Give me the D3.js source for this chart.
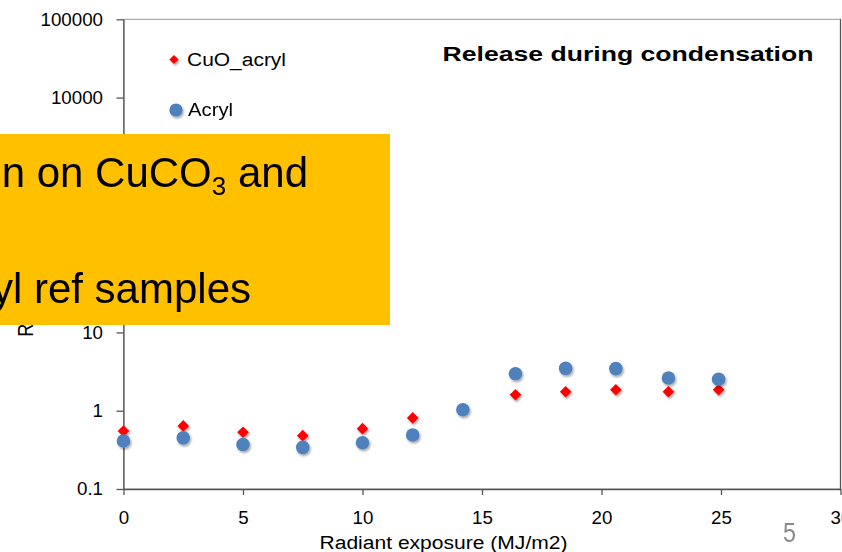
<!DOCTYPE html>
<html>
<head>
<meta charset="utf-8">
<script src="https://cdn.jsdelivr.net/npm/d3@7"></script>
<style>
  html, body { margin: 0; padding: 0; background: #ffffff; }
  svg { display: block; }
  text { font-family: "Liberation Sans", Arial, sans-serif; }
</style>
</head>
<body>
<svg id="chart" width="842" height="552"></svg>
<script>
// Radiant exposure (MJ/m2) at each sampling point
const exposure = [0, 2.5, 5, 7.5, 10, 12.1, 14.2, 16.4, 18.5, 20.6, 22.8, 24.9];
// Release per sample, log scale (null = no measurement)
const cuoAcryl = [0.55, 0.64, 0.53, 0.48, 0.59, 0.81, null, 1.60, 1.75, 1.85, 1.75, 1.85];
const acryl    = [0.41, 0.45, 0.37, 0.34, 0.39, 0.49, 1.03, 2.97, 3.48, 3.45, 2.62, 2.52];

const seriesNames = ["CuO_acryl", "Acryl"];
const yTicks = [0.1, 1, 10, 100, 1000, 10000, 100000];
const yTickLabels = ["0.1", "1", "10", "100", "1000", "10000", "100000"];
const xTicks = [0, 5, 10, 15, 20, 25, 30];

const chartTitle = "Release during condensation";
const xTitle = "Radiant exposure (MJ/m2)";
const yTitle = "Released Cu (µg/m2)";

const svg = d3.select("#chart");
const plot = { left: 123.5, right: 840.5, top: 19.3, bottom: 489 };

const x = d3.scaleLinear().domain([0, 30]).range([plot.left, plot.right]);
const y = d3.scaleLog().domain([0.1, 100000]).range([plot.bottom, plot.top]);

// widen glyphs horizontally by factor k (the chart text is drawn slightly wide)
function widen(sel, k) {
  sel.each(function () {
    const w = this.getComputedTextLength();
    d3.select(this).attr("textLength", w * k).attr("lengthAdjust", "spacingAndGlyphs");
  });
}

// soft drop shadow under markers
const defs = svg.append("defs");
const f = defs.append("filter").attr("id", "shadow")
  .attr("x", "-50%").attr("y", "-50%").attr("width", "200%").attr("height", "200%");
f.append("feDropShadow").attr("dx", 1.2).attr("dy", 1.8)
  .attr("stdDeviation", 1.1).attr("flood-color", "#000").attr("flood-opacity", 0.35);

// plot frame
svg.append("rect")
  .attr("x", plot.left).attr("y", plot.top)
  .attr("width", plot.right - plot.left).attr("height", plot.bottom - plot.top)
  .attr("fill", "none").attr("stroke", "#9a9a9a").attr("stroke-width", 1);
svg.append("line")
  .attr("x1", plot.right).attr("x2", plot.right)
  .attr("y1", plot.top).attr("y2", plot.bottom)
  .attr("stroke", "#555").attr("stroke-width", 1.3);

// y axis
const yAxis = svg.append("g")
  .attr("transform", `translate(${plot.left},0)`)
  .call(d3.axisLeft(y).tickValues(yTicks)
    .tickFormat((d, i) => yTickLabels[i]).tickSize(7).tickSizeOuter(0).tickPadding(13.5));
yAxis.select(".domain").attr("stroke", "#555").attr("stroke-width", 1.3);
yAxis.selectAll(".tick line").attr("stroke", "#555").attr("stroke-width", 1.3);
yAxis.selectAll(".tick text")
  .attr("font-size", 18).attr("fill", "#000").attr("font-family", "Liberation Sans, Arial, sans-serif")
  .call(widen, 1.04);

// x axis
const xAxis = svg.append("g")
  .attr("transform", `translate(0,${plot.bottom})`)
  .call(d3.axisBottom(x).tickValues(xTicks).tickFormat(d3.format("d"))
    .tickSize(6).tickSizeOuter(0).tickPadding(16.5));
xAxis.select(".domain").attr("stroke", "#555").attr("stroke-width", 1.3);
xAxis.selectAll(".tick line").attr("stroke", "#555").attr("stroke-width", 1.3);
xAxis.selectAll(".tick text")
  .attr("font-size", 18).attr("fill", "#000").attr("font-family", "Liberation Sans, Arial, sans-serif")
  .call(widen, 1.04);

// axis titles
svg.append("text")
  .attr("x", 443.5).attr("y", 548.5)
  .attr("text-anchor", "middle").attr("font-size", 18).attr("fill", "#000")
  .attr("textLength", 248).attr("lengthAdjust", "spacingAndGlyphs")
  .text(xTitle);

svg.append("text")
  .attr("transform", `translate(33,${(plot.top + plot.bottom) / 2 - 3}) scale(1.18,1) rotate(-90)`)
  .attr("text-anchor", "middle").attr("font-size", 18).attr("fill", "#000")
  .text(yTitle);

// chart title
svg.append("text")
  .attr("x", 442.5).attr("y", 61)
  .attr("font-size", 21).attr("font-weight", "bold").attr("fill", "#000")
  .attr("textLength", 371).attr("lengthAdjust", "spacingAndGlyphs")
  .text(chartTitle);

// markers
const diamond = r => `M0,${-r}L${r},0L0,${r}L${-r},0Z`;

const redPts = exposure.map((e, i) => ({ e, v: cuoAcryl[i] })).filter(d => d.v != null);
const bluePts = exposure.map((e, i) => ({ e, v: acryl[i] })).filter(d => d.v != null);

svg.append("g").attr("filter", "url(#shadow)")
  .selectAll("path").data(redPts).join("path")
  .attr("d", diamond(5.8))
  .attr("transform", d => `translate(${x(d.e)},${y(d.v)})`)
  .attr("fill", "#ff0000");

svg.append("g").attr("filter", "url(#shadow)")
  .selectAll("circle").data(bluePts).join("circle")
  .attr("cx", d => x(d.e)).attr("cy", d => y(d.v)).attr("r", 6.8)
  .attr("fill", "#4f81bd");

// legend
const legend = svg.append("g");
legend.append("path").attr("d", diamond(4.6))
  .attr("transform", "translate(174,59.5)").attr("fill", "#ff0000").attr("filter", "url(#shadow)");
legend.append("text").attr("x", 187).attr("y", 66)
  .attr("font-size", 18).attr("fill", "#000")
  .attr("textLength", 99).attr("lengthAdjust", "spacingAndGlyphs")
  .text(seriesNames[0]);
legend.append("circle").attr("cx", 176).attr("cy", 110).attr("r", 6.6)
  .attr("fill", "#4f81bd").attr("filter", "url(#shadow)");
legend.append("text").attr("x", 188).attr("y", 116.3)
  .attr("font-size", 18).attr("fill", "#000")
  .attr("textLength", 45).attr("lengthAdjust", "spacingAndGlyphs")
  .text(seriesNames[1]);

// highlighted note box laid over the chart
const note = svg.append("g");
note.append("rect").attr("x", 0).attr("y", 134).attr("width", 390).attr("height", 191)
  .attr("fill", "#ffc000");
const line1 = note.append("text").attr("x", 308).attr("y", 187)
  .attr("text-anchor", "end").attr("font-size", 42).attr("fill", "#000");
line1.append("tspan").text("n on CuCO");
line1.append("tspan").attr("font-size", 26).attr("dy", 8).text("3");
line1.append("tspan").attr("dy", -8).text(" and");
note.append("text").attr("x", 251).attr("y", 303)
  .attr("text-anchor", "end").attr("font-size", 42).attr("fill", "#000")
  .text("yl ref samples");

// slide number
svg.append("text").attr("x", 789.5).attr("y", 542)
  .attr("text-anchor", "middle").attr("font-family", "Open Sans, sans-serif")
  .attr("font-size", 28).attr("fill", "#8a8a8a")
  .attr("textLength", 13).attr("lengthAdjust", "spacingAndGlyphs")
  .text("5");
</script>
</body>
</html>
